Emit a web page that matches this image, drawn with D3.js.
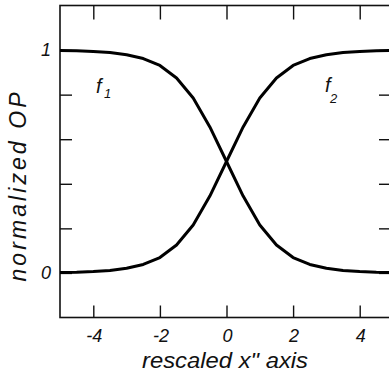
<!DOCTYPE html>
<html>
<head>
<meta charset="utf-8">
<script src="https://cdn.jsdelivr.net/npm/d3@7"></script>
<style>
  html, body { margin: 0; padding: 0; background: #fff; }
  svg { display: block; }
  text { font-family: "Liberation Sans", Arial, Helvetica, sans-serif; font-style: italic; fill: #111; }
</style>
</head>
<body>
<svg id="chart" width="389" height="380"></svg>
<script>
// Rescaled coordinate samples
const xValues = [-5, -4.5, -4, -3.5, -3, -2.5, -2, -1.5, -1, -0.5, 0,
                 0.5, 1, 1.5, 2, 2.5, 3, 3.5, 4, 4.5, 5];
// Normalized order parameter, decreasing branch
const f1Values = [0.998, 0.997, 0.994, 0.989, 0.979, 0.962, 0.931, 0.875, 0.785, 0.655, 0.5,
                  0.345, 0.215, 0.125, 0.069, 0.038, 0.021, 0.011, 0.006, 0.003, 0.002];
// Normalized order parameter, increasing branch
const f2Values = [0.002, 0.003, 0.006, 0.011, 0.021, 0.038, 0.069, 0.125, 0.215, 0.345, 0.5,
                  0.655, 0.785, 0.875, 0.931, 0.962, 0.979, 0.989, 0.994, 0.997, 0.998];
const xTicks = [-4, -2, 0, 2, 4];
const yTicks = [0, 0.2, 0.4, 0.6, 0.8, 1];
const yLabelled = [0, 1];

const svg = d3.select("#chart");
const plotLeft = 60, plotRight = 393, plotTop = 5.5, plotBottom = 317.5;

const x = d3.scaleLinear().domain([-5, 5]).range([plotLeft, plotRight]);
const y = d3.scaleLinear().domain([-0.2, 1.2]).range([plotBottom, plotTop]);

// Frame
svg.append("rect")
  .attr("x", plotLeft).attr("y", plotTop)
  .attr("width", plotRight - plotLeft).attr("height", plotBottom - plotTop)
  .attr("fill", "none").attr("stroke", "#111").attr("stroke-width", 1.6);

// Inward ticks on all four sides
const axisB = d3.axisBottom(x).tickValues(xTicks).tickSizeInner(-12).tickSizeOuter(0).tickFormat("");
const axisT = d3.axisTop(x).tickValues(xTicks).tickSizeInner(-14).tickSizeOuter(0).tickFormat("");
const axisL = d3.axisLeft(y).tickValues(yTicks).tickSizeInner(-12).tickSizeOuter(0).tickFormat("");
const axisR = d3.axisRight(y).tickValues(yTicks).tickSizeInner(-14).tickSizeOuter(0).tickFormat("");

function styleAxis(g) {
  g.select(".domain").remove();
  g.selectAll(".tick line").attr("stroke", "#111").attr("stroke-width", 1.4);
}
svg.append("g").attr("transform", `translate(0,${plotBottom})`).call(axisB).call(styleAxis);
svg.append("g").attr("transform", `translate(0,${plotTop})`).call(axisT).call(styleAxis);
svg.append("g").attr("transform", `translate(${plotLeft},0)`).call(axisL).call(styleAxis);
svg.append("g").attr("transform", `translate(${plotRight},0)`).call(axisR).call(styleAxis);

// Tick labels
svg.append("g").selectAll("text").data(xTicks).join("text")
  .attr("x", d => x(d) + 1)
  .attr("y", 342)
  .attr("text-anchor", "middle")
  .attr("font-size", 18)
  .text(d => String(d));

svg.append("g").selectAll("text").data(yLabelled).join("text")
  .attr("x", 51)
  .attr("y", d => y(d) + 6)
  .attr("text-anchor", "end")
  .attr("font-size", 18)
  .text(d => d);

// Curves
const line = d3.line().x(d => x(d[0])).y(d => y(d[1]));
[f1Values, f2Values].forEach(vals => {
  svg.append("path")
    .datum(xValues.map((xv, i) => [xv, vals[i]]))
    .attr("d", line)
    .attr("fill", "none")
    .attr("stroke", "#000")
    .attr("stroke-width", 3)
    .attr("stroke-linejoin", "round");
});

// Curve names
function curveName(px, py, sub, subDx, subDy) {
  const g = svg.append("g");
  g.append("text").attr("x", px).attr("y", py).attr("font-size", 20).text("f");
  g.append("text").attr("x", px + subDx).attr("y", py + subDy).attr("font-size", 13).text(sub);
}
curveName(96, 93, "1", 8, 5);
curveName(325, 92, "2", 5, 11);

// Axis titles
svg.append("text")
  .attr("x", 225).attr("y", 368)
  .attr("text-anchor", "middle")
  .attr("font-size", 22)
  .attr("textLength", 166).attr("lengthAdjust", "spacingAndGlyphs")
  .text("rescaled x\" axis");

svg.append("text")
  .attr("transform", "translate(26,187) rotate(-90)")
  .attr("text-anchor", "middle")
  .attr("font-size", 23)
  .attr("textLength", 189).attr("lengthAdjust", "spacing")
  .text("normalized OP");
</script>
</body>
</html>
